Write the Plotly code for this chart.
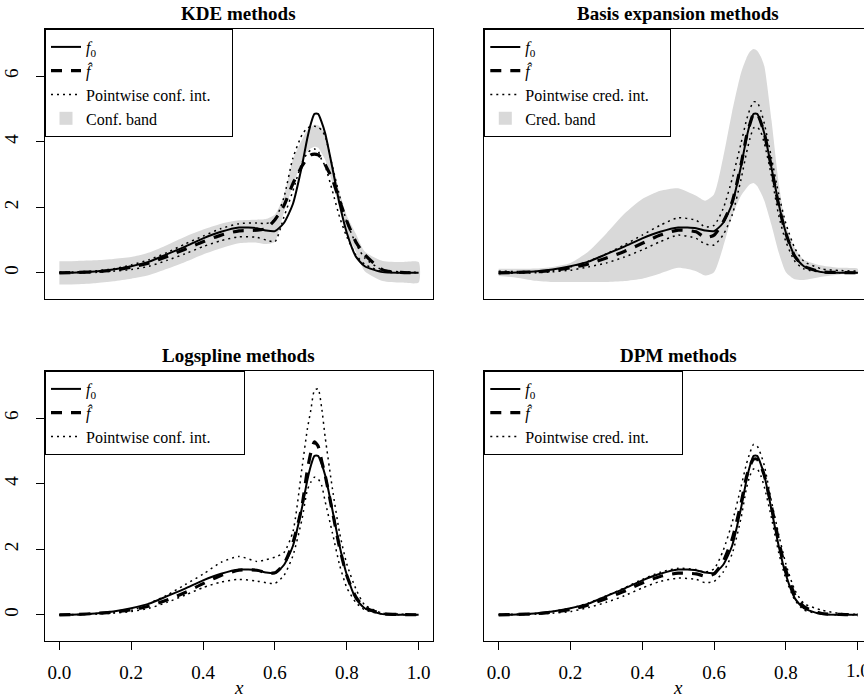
import plotly.graph_objects as go

# ---------------- data ----------------
x_grid = [0.0, 0.05, 0.1, 0.15, 0.2, 0.25, 0.3, 0.35, 0.4, 0.45, 0.5, 0.55, 0.575, 0.6,
          0.625, 0.65, 0.675, 0.69, 0.70, 0.71, 0.72, 0.73, 0.74, 0.76, 0.78, 0.80,
          0.825, 0.85, 0.9, 0.95, 1.0]

f0 = [0.00, 0.01, 0.04, 0.10, 0.20, 0.34, 0.57, 0.80, 1.05, 1.25, 1.38, 1.36, 1.29, 1.27,
      1.52, 2.10, 3.25, 4.10, 4.55, 4.85, 4.85, 4.60, 4.25, 3.20, 2.10, 1.22,
      0.50, 0.20, 0.02, 0.00, 0.00]

# KDE methods
kde_fhat = [0.00, 0.01, 0.03, 0.08, 0.17, 0.30, 0.50, 0.72, 0.95, 1.15, 1.28, 1.30, 1.35, 1.62,
            2.05, 2.72, 3.25, 3.50, 3.60, 3.62, 3.60, 3.50, 3.30, 2.85, 2.20, 1.58,
            0.95, 0.55, 0.09, 0.01, 0.00]
kde_ci_hi = [0.02, 0.03, 0.06, 0.12, 0.24, 0.40, 0.62, 0.88, 1.12, 1.35, 1.50, 1.52, 1.50, 1.62,
             2.30, 3.50, 4.20, 4.42, 4.46, 4.47, 4.45, 4.35, 4.17, 3.25, 2.35, 1.55,
             0.90, 0.45, 0.08, 0.03, 0.01]
kde_ci_lo = [0.00, 0.00, 0.01, 0.05, 0.10, 0.20, 0.38, 0.58, 0.80, 0.98, 1.10, 1.08, 1.00, 0.95,
             1.70, 2.50, 3.35, 3.65, 3.75, 3.78, 3.72, 3.45, 3.25, 2.50, 1.70, 1.10,
             0.55, 0.26, 0.03, 0.00, 0.00]
kde_band_hi = [0.35, 0.36, 0.38, 0.42, 0.48, 0.62, 0.85, 1.10, 1.32, 1.50, 1.60, 1.62, 1.64, 1.78,
               2.35, 3.45, 4.05, 4.35, 4.45, 4.52, 4.50, 4.40, 4.20, 3.35, 2.45, 1.75,
               1.20, 0.65, 0.36, 0.33, 0.33]
kde_band_lo = [-0.36, -0.35, -0.32, -0.26, -0.18, -0.07, 0.12, 0.33, 0.56, 0.75, 0.90, 0.92, 0.88, 0.95,
               1.85, 2.65, 3.40, 3.70, 3.80, 3.85, 3.82, 3.65, 3.45, 2.75, 1.95, 1.22,
               0.65, 0.05, -0.25, -0.30, -0.30]

# Basis expansion methods
be_fhat = [0.00, 0.01, 0.03, 0.07, 0.15, 0.27, 0.45, 0.65, 0.90, 1.15, 1.30, 1.25, 1.08, 1.15,
           1.55, 2.15, 3.30, 4.15, 4.55, 4.85, 4.85, 4.60, 4.25, 3.20, 2.05, 1.20,
           0.50, 0.20, 0.03, 0.01, 0.00]
be_ci_hi = [0.05, 0.04, 0.04, 0.08, 0.18, 0.35, 0.58, 0.85, 1.15, 1.45, 1.68, 1.60, 1.40, 1.45,
            1.95, 2.85, 3.95, 4.65, 5.00, 5.22, 5.20, 4.95, 4.55, 3.50, 2.40, 1.50,
            0.75, 0.35, 0.12, 0.07, 0.05]
be_ci_lo = [-0.02, -0.01, 0.00, 0.03, 0.08, 0.18, 0.30, 0.48, 0.70, 0.95, 1.15, 1.05, 0.88, 0.85,
            1.15, 1.75, 2.85, 3.65, 4.10, 4.42, 4.45, 4.30, 3.95, 2.95, 1.75, 0.95,
            0.35, 0.12, 0.02, 0.00, 0.00]
be_band_hi = [0.12, 0.12, 0.13, 0.18, 0.30, 0.65, 1.20, 1.80, 2.25, 2.50, 2.58, 2.35, 2.20, 2.40,
              3.50, 4.90, 6.10, 6.55, 6.75, 6.83, 6.78, 6.60, 6.30, 4.65, 2.75, 1.45,
              0.75, 0.40, 0.22, 0.15, 0.12]
be_band_lo = [-0.10, -0.15, -0.24, -0.28, -0.28, -0.28, -0.28, -0.25, -0.18, -0.02, 0.15, 0.05, -0.08, 0.02,
              0.78, 1.72, 2.35, 2.58, 2.70, 2.74, 2.65, 2.45, 2.20, 1.45, 0.62, 0.02,
              -0.20, -0.22, -0.12, -0.05, -0.03]

# Logspline methods
ls_fhat = [0.00, 0.01, 0.04, 0.08, 0.15, 0.27, 0.45, 0.68, 0.95, 1.20, 1.36, 1.36, 1.29, 1.28,
           1.55, 2.20, 3.30, 4.40, 4.95, 5.28, 5.15, 4.70, 4.25, 3.15, 2.05, 1.20,
           0.55, 0.22, 0.04, 0.01, 0.00]
ls_ci_hi = [0.00, 0.01, 0.04, 0.07, 0.13, 0.35, 0.60, 0.92, 1.24, 1.60, 1.78, 1.63, 1.68, 1.76,
            1.90, 2.53, 4.45, 5.65, 6.25, 6.85, 6.90, 6.32, 5.41, 3.85, 2.50, 1.55,
            0.80, 0.30, 0.05, 0.02, 0.00]
ls_ci_lo = [0.00, 0.00, 0.02, 0.05, 0.10, 0.20, 0.38, 0.60, 0.83, 1.00, 1.08, 1.03, 0.98, 0.96,
            1.20, 1.80, 2.90, 3.80, 4.05, 4.20, 4.15, 3.95, 3.45, 2.50, 1.52, 0.83,
            0.38, 0.15, 0.02, 0.00, 0.00]

# DPM methods
dpm_fhat = [0.00, 0.01, 0.03, 0.08, 0.16, 0.30, 0.50, 0.72, 0.97, 1.17, 1.27, 1.25, 1.18, 1.25,
            1.62, 2.30, 3.40, 4.20, 4.55, 4.75, 4.75, 4.55, 4.25, 3.30, 2.25, 1.35,
            0.60, 0.25, 0.04, 0.01, 0.00]
dpm_ci_hi = [0.01, 0.02, 0.04, 0.10, 0.20, 0.36, 0.58, 0.82, 1.08, 1.30, 1.42, 1.38, 1.30, 1.40,
             1.95, 2.80, 3.90, 4.60, 4.95, 5.20, 5.15, 4.90, 4.55, 3.45, 2.45, 1.55,
             0.75, 0.35, 0.14, 0.04, 0.01]
dpm_ci_lo = [0.00, 0.00, 0.02, 0.05, 0.10, 0.22, 0.38, 0.58, 0.82, 1.02, 1.12, 1.08, 0.98, 1.02,
             1.30, 1.85, 2.95, 3.85, 4.25, 4.45, 4.45, 4.25, 3.90, 2.95, 1.90, 1.10,
             0.45, 0.15, 0.02, 0.00, 0.00]

titles = ["KDE methods", "Basis expansion methods", "Logspline methods", "DPM methods"]
ci_names = ["Pointwise conf. int.", "Pointwise cred. int.", "Pointwise conf. int.", "Pointwise cred. int."]
band_names = ["Conf. band", "Cred. band", None, None]
x_ticks = [0.0, 0.2, 0.4, 0.6, 0.8, 1.0]
x_ticklabels = ["0.0", "0.2", "0.4", "0.6", "0.8", "1.0"]
y_ticks = [0, 2, 4, 6]
y_ticklabels = ["0", "2", "4", "6"]

panels = [
    dict(fhat=kde_fhat, hi=kde_ci_hi, lo=kde_ci_lo, bhi=kde_band_hi, blo=kde_band_lo),
    dict(fhat=be_fhat, hi=be_ci_hi, lo=be_ci_lo, bhi=be_band_hi, blo=be_band_lo),
    dict(fhat=ls_fhat, hi=ls_ci_hi, lo=ls_ci_lo, bhi=None, blo=None),
    dict(fhat=dpm_fhat, hi=dpm_ci_hi, lo=dpm_ci_lo, bhi=None, blo=None),
]

# ---------------- layout geometry (pixels) ----------------
W, H = 864, 698
SERIF = "Liberation Serif"
BAND = "#d9d9d9"
NB = "\u00a0"

x_dom = [(45 / W, 433 / W), (484.3 / W, 1.0)]
y_dom = [(1 - 299 / H, 1 - 29 / H), (1 - 641 / H, 1 - 371 / H)]
x_rng = [[-0.04, 1.04], [-0.04, (W - 498.7) / 359.0]]
y_rng = [-0.80, 7.44]
pad_right = [4, 4, 7, 7]   # widen legend boxes like the reference

fig = go.Figure()

for i, p in enumerate(panels):
    col, row = i % 2, i // 2
    ax = "" if i == 0 else str(i + 1)
    xref, yref = "x" + ax, "y" + ax
    leg = "legend" + ax
    # band
    if p["bhi"] is not None:
        fig.add_trace(go.Scatter(
            x=x_grid + x_grid[::-1], y=p["bhi"] + p["blo"][::-1],
            fill="toself", fillcolor=BAND, line=dict(width=0, shape="spline", smoothing=0.6),
            mode="lines", showlegend=False, hoverinfo="skip", xaxis=xref, yaxis=yref))
    # pointwise intervals
    for k, arr in enumerate([p["hi"], p["lo"]]):
        fig.add_trace(go.Scatter(
            x=x_grid, y=arr, mode="lines", name=ci_names[i] + NB * pad_right[i],
            legend=leg, legendrank=3, showlegend=(k == 0),
            line=dict(color="black", width=1.5, dash="2px,4px", shape="spline", smoothing=0.6),
            xaxis=xref, yaxis=yref))
    # estimate
    fig.add_trace(go.Scatter(
        x=x_grid, y=p["fhat"], mode="lines", name="<i>f̂</i>", legend=leg, legendrank=2,
        line=dict(color="black", width=3.2, dash="11px,9px", shape="spline", smoothing=0.6),
        xaxis=xref, yaxis=yref))
    # truth
    fig.add_trace(go.Scatter(
        x=x_grid, y=f0, mode="lines", name="<i>f</i><sub>0</sub>", legend=leg, legendrank=1,
        line=dict(color="black", width=2, shape="spline", smoothing=0.6),
        xaxis=xref, yaxis=yref))
    # legend key for band
    if band_names[i] is not None:
        fig.add_trace(go.Scatter(
            x=[None], y=[None], mode="markers", name=band_names[i], legend=leg, legendrank=4,
            marker=dict(symbol="square", size=13, color=BAND),
            xaxis=xref, yaxis=yref))

    bottom = row == 1
    left = col == 0
    xa = dict(domain=list(x_dom[col]), range=x_rng[col], anchor=yref,
              showline=True, linecolor="black", linewidth=1, mirror=True,
              showgrid=False, zeroline=False, fixedrange=True,
              ticks="outside" if bottom else "", ticklen=8, tickcolor="black",
              tickvals=x_ticks if bottom else [], ticktext=x_ticklabels if bottom else [],
              showticklabels=bottom, ticklabelstandoff=6,
              tickfont=dict(family=SERIF, size=19, color="black"))
    ya = dict(domain=list(y_dom[row]), range=y_rng, anchor=xref,
              showline=True, linecolor="black", linewidth=1, mirror=left,
              showgrid=False, zeroline=False, fixedrange=True,
              ticks="outside" if left else "", ticklen=8, tickcolor="black",
              tickvals=y_ticks if left else [], ticktext=y_ticklabels if left else [],
              showticklabels=left, tickangle=-90, ticklabelstandoff=10,
              tickfont=dict(family=SERIF, size=19, color="black"))
    fig.layout["xaxis" + ax] = xa
    fig.layout["yaxis" + ax] = ya

    fig.layout[leg] = dict(
        x=x_dom[col][0], y=y_dom[row][1], xanchor="left", yanchor="top",
        bgcolor="white", bordercolor="black", borderwidth=1,
        font=dict(family=SERIF, size=16, color="black"), tracegroupgap=0)

    cx = (59.3 + 179.5) / W if col == 0 else (498.7 + 179.5) / W
    ty = 1 - (14 if row == 0 else 355) / H
    fig.add_annotation(x=cx, y=ty, xref="paper", yref="paper", showarrow=False,
                       text="<b>" + titles[i] + "</b>", xanchor="center", yanchor="middle",
                       font=dict(family=SERIF, size=19, color="black"))
    if bottom:
        fig.add_annotation(x=cx, y=0, xref="paper", yref="paper", showarrow=False,
                           text="<i>x</i>", xanchor="center", yanchor="bottom", yshift=-2,
                           font=dict(family=SERIF, size=19, color="black"))

# last tick label of the bottom-right axis, cut by the right edge as in the reference
fig.add_annotation(x=x_ticks[-1], y=1 - 670 / H, xref="x4", yref="paper", showarrow=False,
                   text=x_ticklabels[-1], xanchor="center", yanchor="middle",
                   font=dict(family=SERIF, size=19, color="black"))

fig.update_layout(width=W, height=H, margin=dict(l=0, r=0, t=0, b=0),
                  paper_bgcolor="white", plot_bgcolor="white",
                  font=dict(family=SERIF, color="black"))

fig.write_html("out.html", config={"displayModeBar": False},
               post_script="document.body.style.margin='0px';document.body.style.overflow='hidden';")
